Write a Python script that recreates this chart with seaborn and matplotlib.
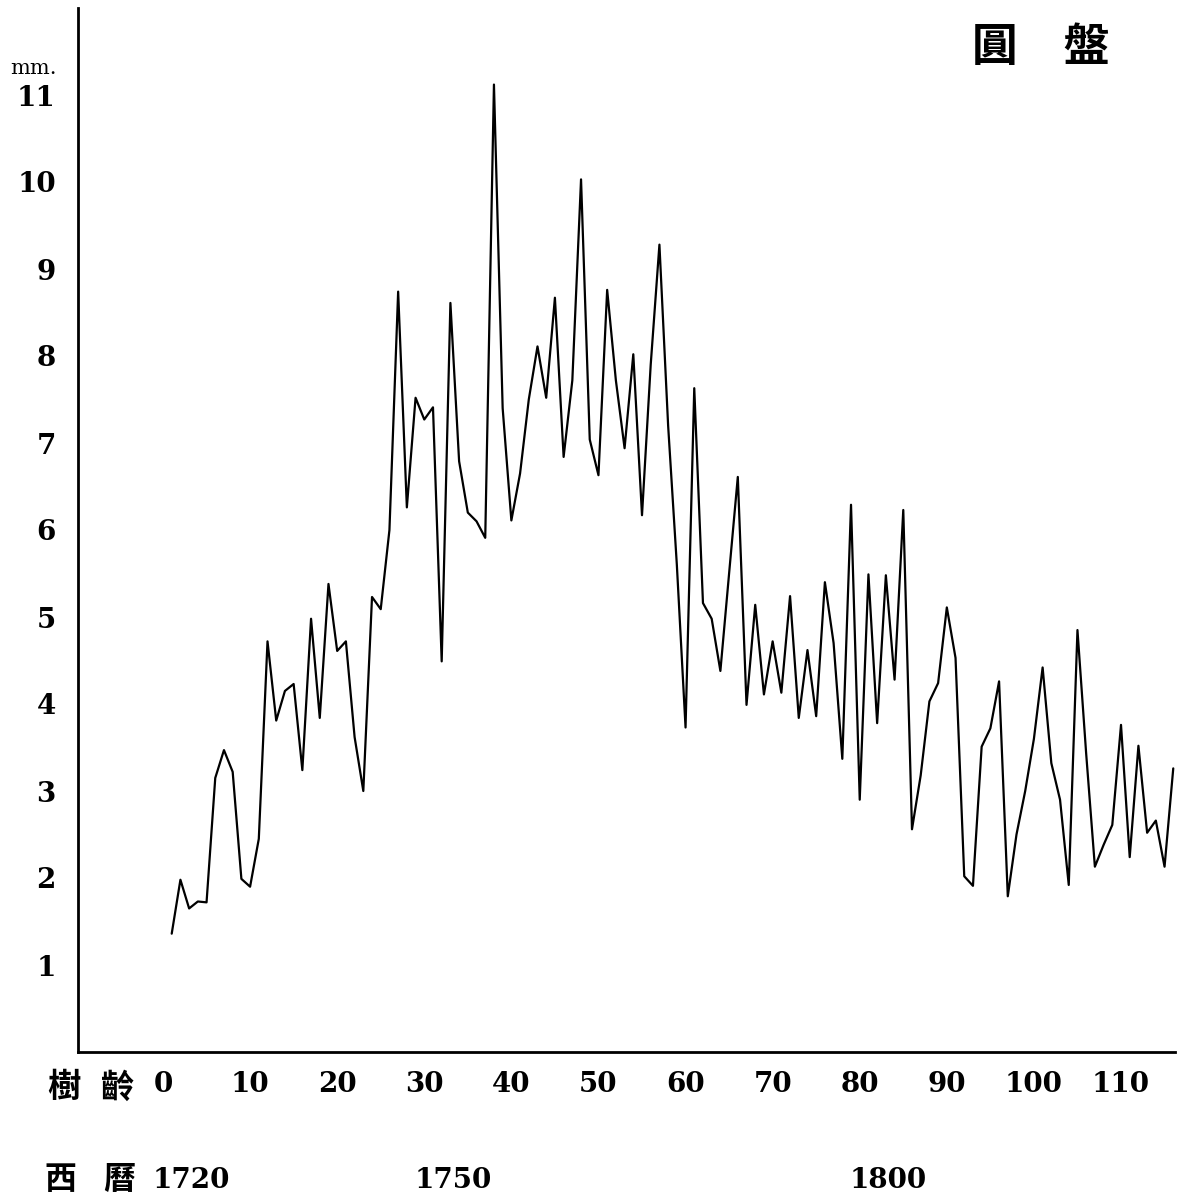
import matplotlib
matplotlib.use("Agg")
import matplotlib.pyplot as plt
import seaborn as sns
import numpy as np
import pandas as pd

# Annual ring width (mm) by tree age
ages = list(range(1, 117))
widths = [
    1.36, 1.98, 1.65, 1.73, 1.72, 3.15, 3.47, 3.22, 1.99, 1.90,
    2.45, 4.72, 3.81, 4.15, 4.23, 3.24, 4.98, 3.84, 5.38, 4.61,
    4.72, 3.62, 3.00, 5.23, 5.09, 6.00, 8.74, 6.26, 7.52, 7.27,
    7.41, 4.49, 8.61, 6.79, 6.20, 6.10, 5.91, 11.12, 7.40, 6.11,
    6.65, 7.50, 8.11, 7.52, 8.67, 6.84, 7.72, 10.03, 7.04, 6.63,
    8.76, 7.72, 6.94, 8.02, 6.17, 7.90, 9.28, 7.20, 5.60, 3.73,
    7.63, 5.16, 4.98, 4.38, 5.50, 6.61, 3.99, 5.14, 4.11, 4.72,
    4.13, 5.24, 3.84, 4.62, 3.86, 5.40, 4.70, 3.37, 6.29, 2.90,
    5.49, 3.78, 5.48, 4.28, 6.23, 2.56, 3.18, 4.03, 4.24, 5.11,
    4.53, 2.02, 1.91, 3.51, 3.72, 4.26, 1.79, 2.50, 3.00, 3.60,
    4.42, 3.32, 2.90, 1.92, 4.85, 3.43, 2.13, 2.38, 2.61, 3.76,
    2.24, 3.52, 2.52, 2.66, 2.13, 3.26,
]
x_ticks = list(range(0, 111, 10))
y_ticks = list(range(1, 12))
years = [1720, 1750, 1800]

title_text = "圓\u3000盤"
x_caption = ["樹", "齡"]
year_caption = ["西", "曆"]
unit_text = "mm."

sns.set_theme(style="white")
plt.rcParams["font.family"] = ["DejaVu Serif", "Liberation Serif"]
plt.rcParams["text.color"] = "black"

W, H = 1186, 1203
fig = plt.figure(figsize=(W / 100, H / 100), dpi=100)
fig.patch.set_facecolor("white")

ax_left, ax_right, ax_top, ax_bottom = 78, 1175, 8, 1052
ax = fig.add_axes([ax_left / W, 1 - ax_bottom / H,
                   (ax_right - ax_left) / W, (ax_bottom - ax_top) / H])
ax.set_facecolor("white")

df = pd.DataFrame({"age": ages, "width": widths})
sns.lineplot(data=df, x="age", y="width", ax=ax, color="black",
             linewidth=1.6, estimator=None)

ax.set_xlim(-9.76, 116.2)
ax.set_ylim(0, 12)
ax.set_xticks(x_ticks)
ax.set_yticks(y_ticks)
ax.set_xlabel("")
ax.set_ylabel("")

num_font = dict(family=["DejaVu Serif", "Liberation Serif"], weight="bold",
                size=20, color="black")
ax.set_xticklabels([str(t) for t in x_ticks], fontdict=num_font)
ax.set_yticklabels([str(t) for t in y_ticks], fontdict=num_font)
ax.tick_params(axis="both", direction="in", length=7, width=1.4,
               colors="black", labelcolor="black")
ax.tick_params(axis="x", pad=14)
ax.tick_params(axis="y", pad=16)

sns.despine(ax=ax)
for side in ("left", "bottom"):
    ax.spines[side].set_color("black")
    ax.spines[side].set_linewidth(2.0)

cjk = ["Noto Sans CJK TC", "Noto Sans CJK JP", "DejaVu Sans"]

def px(x, y):
    return x / W, 1 - y / H

# unit label above the y axis
fig.text(*px(33, 68), unit_text, ha="center", va="center",
         family=["DejaVu Serif"], fontsize=15, color="black")

# title in the upper right corner
fig.text(*px(1041, 48), title_text, ha="center", va="center",
         family=cjk, fontsize=33, fontweight="black", color="black")

# caption of the age axis
for ch, cx in zip(x_caption, [64, 118]):
    fig.text(*px(cx, 1088), ch, ha="center", va="center",
             family=cjk, fontsize=24, fontweight="bold", color="black")

# calendar-year row beneath the age axis
for ch, cx in zip(year_caption, [60, 119]):
    fig.text(*px(cx, 1180), ch, ha="center", va="center",
             family=cjk, fontsize=23, fontweight="bold", color="black")
trans = matplotlib.transforms.blended_transform_factory(ax.transData, fig.transFigure)
for yr in years:
    ax.text(yr - 1720 + 3.3, 1 - 1180 / H, str(yr), transform=trans,
            ha="center", va="center", clip_on=False, **num_font)

fig.savefig("out.png", dpi=100, facecolor="white")
